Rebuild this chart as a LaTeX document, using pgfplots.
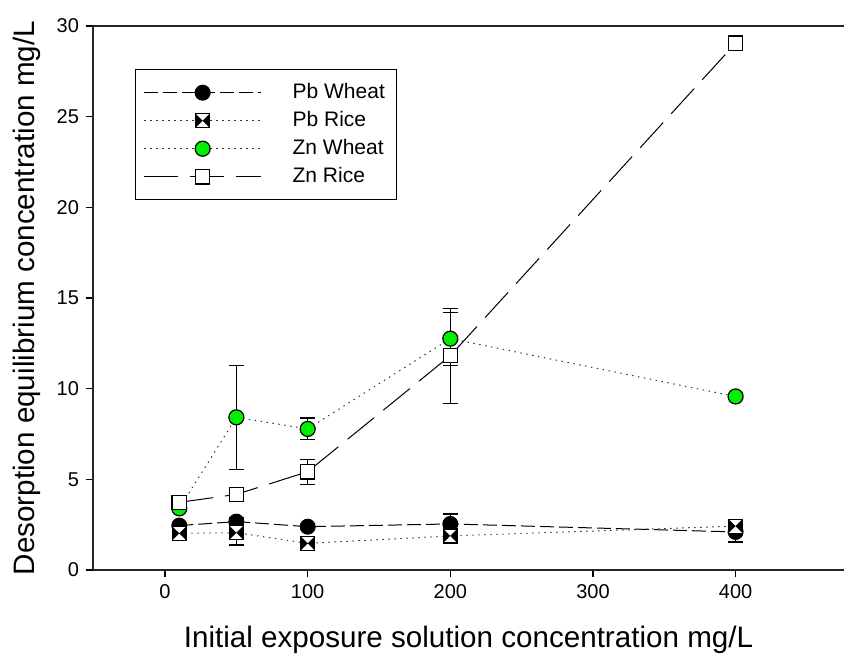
\documentclass[border=0pt]{standalone}
\usepackage{pgfplots}
\pgfplotsset{compat=1.18}
\usepackage{fontspec}
\setmainfont{Liberation Sans}

% square with two black triangles (left and right) meeting at the centre
\pgfdeclareplotmark{bowtie}{%
  \pgfsetfillcolor{white}%
  \pgfpathrectangle{\pgfqpoint{-\pgfplotmarksize}{-\pgfplotmarksize}}{\pgfqpoint{2\pgfplotmarksize}{2\pgfplotmarksize}}%
  \pgfusepathqfillstroke
  \pgfsetfillcolor{black}%
  \pgfpathmoveto{\pgfqpoint{-\pgfplotmarksize}{-\pgfplotmarksize}}%
  \pgfpathlineto{\pgfqpoint{0pt}{0pt}}%
  \pgfpathlineto{\pgfqpoint{-\pgfplotmarksize}{\pgfplotmarksize}}%
  \pgfpathclose
  \pgfpathmoveto{\pgfqpoint{\pgfplotmarksize}{-\pgfplotmarksize}}%
  \pgfpathlineto{\pgfqpoint{0pt}{0pt}}%
  \pgfpathlineto{\pgfqpoint{\pgfplotmarksize}{\pgfplotmarksize}}%
  \pgfpathclose
  \pgfusepathqfill
  \pgfpathrectangle{\pgfqpoint{-\pgfplotmarksize}{-\pgfplotmarksize}}{\pgfqpoint{2\pgfplotmarksize}{2\pgfplotmarksize}}%
  \pgfusepathqstroke
}

\definecolor{zngreen}{RGB}{0,240,0}

\begin{document}
\begin{tikzpicture}
\useasboundingbox (-46.5pt,-42.5pt) rectangle (375.5pt,285pt);
\begin{axis}[
    width=375.5pt, height=272pt,
    scale only axis,
    xmin=-50.5, xmax=476,
    ymin=0, ymax=30,
    xtick={0,100,200,300,400},
    ytick={0,5,10,15,20,25,30},
    axis x line*=box,
    axis y line*=left,
    xtick pos=bottom, ytick pos=left,
    tick align=outside,
    major tick length=3.5pt,
    axis line style={line width=0.8pt, black!85},
    tick style={line width=0.6pt, black},
    ticklabel style={font=\fontsize{10}{12}\selectfont},
    /pgf/number format/assume math mode=true,
    xlabel={Initial exposure solution concentration mg/L},
    ylabel={Desorption equilibrium concentration mg/L},
    label style={font=\fontsize{14.8}{17}\selectfont},
    xlabel style={yshift=-7pt},
    ylabel style={yshift=1pt},
    legend cell align=left,
    legend style={at={(0.056,0.921)}, anchor=north west, draw=black, line width=0.6pt,
        font=\fontsize{10.5}{12}\selectfont, row sep=0.9pt, inner xsep=4pt, inner ysep=5pt},
    legend image code/.code={\draw[mark repeat=2,mark phase=2,#1] plot coordinates {(0pt,0pt) (29.25pt,0pt) (58.5pt,0pt)}; \path (72pt,0pt);},
    error bars/error bar style={solid, line width=0.6pt, black},
    error bars/error mark options={rotate=90, mark size=3.7pt, line width=0.6pt, black},
]

\addplot[black, line width=0.5pt, dash pattern=on 7pt off 2.5pt,
    mark=*, mark size=3.75pt, mark options={solid, fill=black},
    error bars/.cd, y dir=both, y explicit]
    coordinates {
    (10,2.45) +- (0,0.1)
    (50,2.67) +- (0,0.2)
    (100,2.39) +- (0,0.1)
    (200,2.54) +- (0,0.55)
    (400,2.1) +- (0,0.55)
    };
\addlegendentry{Pb Wheat}

\addplot[black!80, line width=0.5pt, dash pattern=on 0.7pt off 2.3pt,
    mark=bowtie, mark size=3.5pt, mark options={solid, black, line width=0.6pt},
    error bars/.cd, y dir=both, y explicit]
    coordinates {
    (10,2.02) +- (0,0.1)
    (50,2.06) +- (0,0.68)
    (100,1.47) +- (0,0.1)
    (200,1.88) +- (0,0.2)
    (400,2.42) +- (0,0.1)
    };
\addlegendentry{Pb Rice}

\addplot[black!80, line width=0.5pt, dash pattern=on 0.7pt off 2.3pt,
    mark=*, mark size=3.75pt, mark options={solid, draw=black, fill=zngreen, line width=0.6pt},
    error bars/.cd, y dir=both, y explicit]
    coordinates {
    (10,3.4) +- (0,0.1)
    (50,8.42) +- (0,2.87)
    (100,7.78) +- (0,0.6)
    (200,12.76) +- (0,1.46)
    (400,9.57) +- (0,0.15)
    };
\addlegendentry{Zn Wheat}

\addplot[black, line width=0.5pt, dash pattern=on 17pt off 6pt,
    mark=square*, mark size=3.6pt, mark options={solid, fill=white, line width=0.6pt},
    error bars/.cd, y dir=both, y explicit]
    coordinates {
    (10,3.73) +- (0,0.1)
    (50,4.17) +- (0,0.1)
    (100,5.42) +- (0,0.69)
    (200,11.82) +- (0,2.62)
    (400,29.05) +- (0,0)
    };
\addlegendentry{Zn Rice}

\end{axis}
\end{tikzpicture}
\end{document}
